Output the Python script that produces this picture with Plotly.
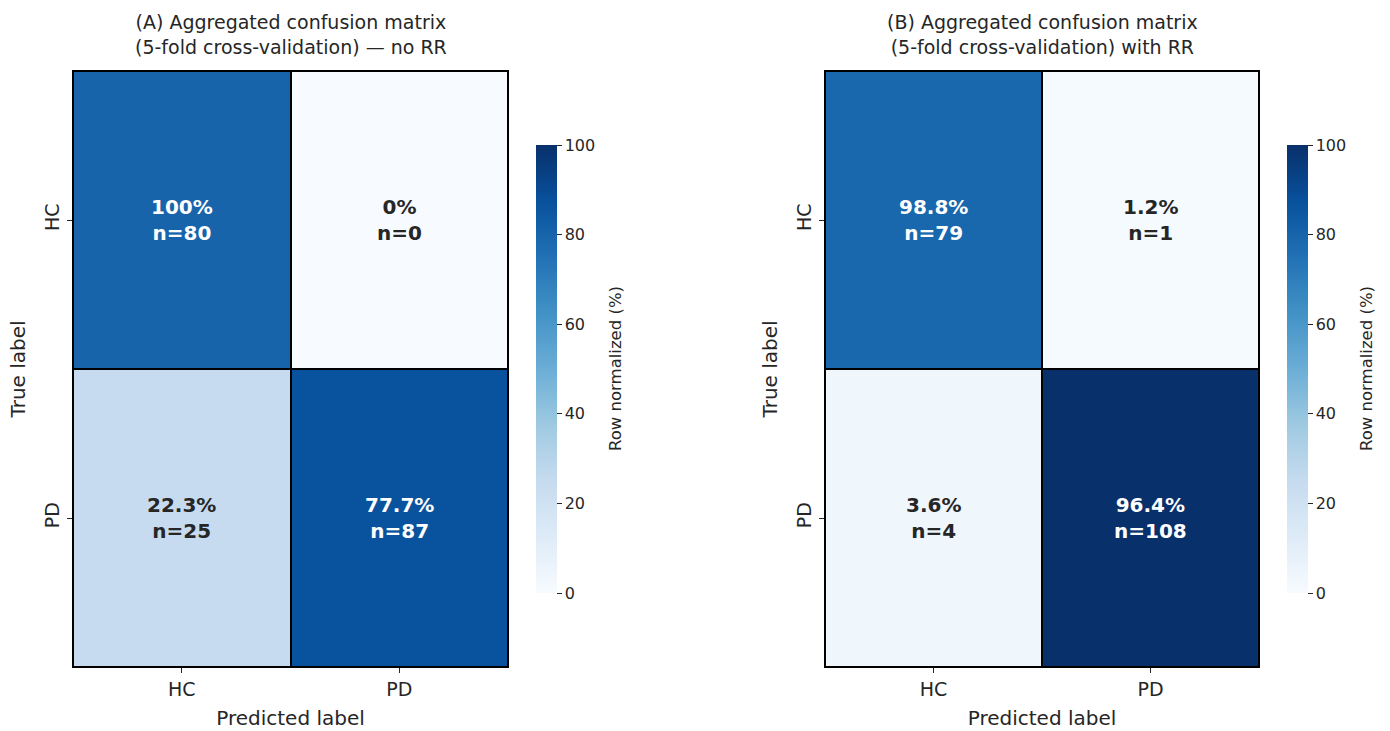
import plotly.graph_objects as go

classes = ["HC", "PD"]
counts_a = [[80, 0], [25, 87]]
counts_b = [[79, 1], [4, 108]]
titles = ["(A) Aggregated confusion matrix<br>(5-fold cross-validation) — no RR",
          "(B) Aggregated confusion matrix<br>(5-fold cross-validation) with RR"]
cbar_title = "Row normalized (%)"
cbar_ticks = [0, 20, 40, 60, 80, 100]

blues = [[0.0, "rgb(247,251,255)"], [0.125, "rgb(222,235,247)"], [0.25, "rgb(198,219,239)"],
         [0.375, "rgb(158,202,225)"], [0.5, "rgb(107,174,214)"], [0.625, "rgb(66,146,198)"],
         [0.75, "rgb(33,113,181)"], [0.875, "rgb(8,81,156)"], [1.0, "rgb(8,48,107)"]]

W, H = 1390, 731
FONT = "DejaVu Sans"
TXT = "#262626"

# plot area in pixels
ML, MR, MT, MB = 73, W - 1259, 71, H - 667
PW, PH = W - ML - MR, H - MT - MB


def px_x(px):
    return (px - ML) / PW


def px_y(py):
    return (H - MB - py) / PH


panels = [
    dict(counts=counts_a, x0=73, x1=508, cbx=536, title=titles[0]),
    dict(counts=counts_b, x0=825, x1=1259, cbx=1287, title=titles[1]),
]
y_top, y_bot = 71, 667
cb_top, cb_bot = 145, 593

fig = go.Figure()
annotations = []
for i, p in enumerate(panels):
    xa = "x" if i == 0 else "x2"
    ya = "y" if i == 0 else "y2"
    counts = p["counts"]
    fig.add_trace(go.Heatmap(
        z=counts, x=classes, y=classes, xaxis=xa, yaxis=ya,
        zmin=0, zmax=100, colorscale=blues, xgap=2, ygap=2,
        hoverinfo="skip",
        colorbar=dict(
            x=px_x(p["cbx"]), xanchor="left", xref="paper", xpad=0, ypad=0,
            y=px_y((cb_top + cb_bot) / 2), yanchor="middle", yref="paper",
            len=cb_bot - cb_top, lenmode="pixels", thickness=21,
            outlinewidth=0, ticks="outside", ticklen=5, tickcolor=TXT,
            tickvals=cbar_ticks, tickfont=dict(family=FONT, size=16, color=TXT),
        ),
    ))
    for r, true_lbl in enumerate(classes):
        tot = sum(counts[r])
        for c, pred_lbl in enumerate(classes):
            n = counts[r][c]
            pct = 100.0 * n / tot
            s = f"{pct:.1f}"
            if s.endswith(".0"):
                s = s[:-2]
            annotations.append(dict(
                x=pred_lbl, y=true_lbl, xref=xa, yref=ya, showarrow=False,
                text=f"<b>{s}%<br>n={n}</b>",
                font=dict(family=FONT, size=20, color="white" if n > 50 else TXT),
            ))
    annotations.append(dict(
        x=px_x((p["x0"] + p["x1"]) / 2), y=px_y(9), xref="paper", yref="paper",
        xanchor="center", yanchor="top", showarrow=False, text=p["title"],
        font=dict(family=FONT, size=19, color=TXT),
    ))
    annotations.append(dict(
        x=px_x(p["cbx"] + 79), y=px_y((cb_top + cb_bot) / 2), xref="paper", yref="paper",
        xanchor="center", yanchor="middle", showarrow=False, text=cbar_title,
        textangle=-90, font=dict(family=FONT, size=16.5, color=TXT),
    ))

axis_common = dict(
    showline=True, mirror=True, linecolor="black", linewidth=1, automargin=False,
    ticks="outside", ticklen=5, tickcolor=TXT, showgrid=False, zeroline=False,
    tickfont=dict(family=FONT, size=19, color=TXT),
)
layout = dict(
    width=W, height=H, margin=dict(l=ML, r=MR, t=MT, b=MB, autoexpand=False),
    paper_bgcolor="white", plot_bgcolor="black",
    annotations=annotations, showlegend=False,
)
for i, p in enumerate(panels):
    xk = "xaxis" if i == 0 else "xaxis2"
    yk = "yaxis" if i == 0 else "yaxis2"
    layout[xk] = dict(axis_common, domain=[px_x(p["x0"]), px_x(p["x1"])],
                      anchor="y" if i == 0 else "y2",
                      title=dict(text="Predicted label", standoff=12,
                                 font=dict(family=FONT, size=20, color=TXT)))
    layout[yk] = dict(axis_common, domain=[px_y(y_bot), px_y(y_top)],
                      anchor="x" if i == 0 else "x2", autorange="reversed",
                      tickangle=-90,
                      title=dict(text="True label", standoff=10,
                                 font=dict(family=FONT, size=20, color=TXT)))
fig.update_layout(**layout)
fig.write_html("out.html", config={"displayModeBar": False},
               post_script="document.body.style.margin='0';document.body.style.overflow='hidden';")
